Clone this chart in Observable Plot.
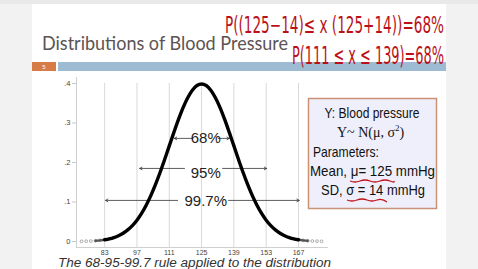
<!DOCTYPE html>
<html>
<head>
<meta charset="utf-8">
<script src="https://cdn.jsdelivr.net/npm/d3@7"></script>
<script src="https://cdn.jsdelivr.net/npm/@observablehq/plot@0.6"></script>
<style>
  html, body { margin: 0; padding: 0; }
  body { width: 478px; height: 269px; overflow: hidden; background: #f2f2f2; position: relative; font-family: "Liberation Sans", Arial, sans-serif; }
  #slide { position: absolute; left: 32px; top: 4px; width: 414px; height: 265px; background: #fff; }
  #top { position: absolute; left: 0; top: 0; width: 478px; height: 4px; background: #e9e9e9; }
  #chart { position: absolute; left: 32px; top: 72px; }
  #deco { position: absolute; left: 0; top: 0; pointer-events: none; }
</style>
</head>
<body>
<div id="top"></div>
<div id="slide"></div>
<div id="chart"></div>
<svg id="deco" width="478" height="269"></svg>
<script>
// Blood pressure values (mmHg) and density
const bp = [73,75,77,79,81,83,85,87,89,91,93,95,97,99,101,103,105,107,109,111,113,115,117,119,121,123,125,
            127,129,131,133,135,137,139,141,143,145,147,149,151,153,155,157,159,161,163,165,167,169,171,173,175,177];
const density = [0.0004,0.0007,0.0011,0.0018,0.0029,0.0044,0.0067,0.0100,0.0146,0.0209,0.0293,0.0402,0.0540,0.0711,0.0918,0.1161,0.1438,0.1746,0.2076,0.2420,0.2763,0.3091,0.3389,0.3639,0.3830,0.3949,0.3989,
                 0.3949,0.3830,0.3639,0.3389,0.3091,0.2763,0.2420,0.2076,0.1746,0.1438,0.1161,0.0918,0.0711,0.0540,0.0402,0.0293,0.0209,0.0146,0.0100,0.0067,0.0044,0.0029,0.0018,0.0011,0.0007,0.0004];
const xTicks = [83, 97, 111, 125, 139, 153, 167];
const yTicks = [0, 0.1, 0.2, 0.3, 0.4];
// interval arrows: label, height, inner gap ends, arrow tips
const ruleLabels = ["68%", "95%", "99.7%"];
const ruleHeight = [0.261, 0.185, 0.104];
const labelHeight = [0.261, 0.173, 0.103];
const gapLeft = [120.7, 117.6, 114.6];
const gapRight = [132.2, 134.1, 136.7];
const tipLeft = [113.2, 98.2, 83.4];
const tipRight = [137.0, 153.2, 167.3];

const curve = bp.map((x, i) => ({x, y: density[i]}));
const mainCurve = curve.filter(d => d.x >= 83 && d.x <= 167);
const tailLine = curve.filter(d => (d.x >= 79 && d.x <= 87) || (d.x >= 163 && d.x <= 171));
const tailDots = curve.filter(d => d.x <= 81 || d.x >= 169);
const arrows = [];
ruleLabels.forEach((l, i) => {
  arrows.push({x1: gapLeft[i], x2: tipLeft[i], y: ruleHeight[i]});
  arrows.push({x1: gapRight[i], x2: tipRight[i], y: ruleHeight[i]});
});
const labels = ruleLabels.map((l, i) => ({label: l, y: labelHeight[i]}));

const yMin = -0.0152, yMax = 0.4152;
const fmtY = d => d === 0 ? "0" : d3.format(".1f")(d).replace(/^0/, "");

const plot = Plot.plot({
  width: 310, height: 197,
  marginLeft: 44, marginRight: 14, marginTop: 5, marginBottom: 22,
  style: {background: "transparent", fontFamily: "Liberation Sans, Arial, sans-serif", fontSize: "7px"},
  x: {domain: [70.8, 180]},
  y: {domain: [yMin, yMax]},
  marks: [
    Plot.ruleX(xTicks, {y1: yMin, y2: 0.4, stroke: "#d9d9d9", strokeWidth: 1}),
    Plot.ruleX([70.8], {y1: yMin, y2: yMax, stroke: "#cfcfcf"}),
    Plot.ruleY([yMin], {x1: 70.8, x2: 180, stroke: "#cfcfcf"}),
    Plot.axisY({ticks: yTicks, tickSize: 4, tickFormat: () => "", stroke: "#c8c8c8", label: null}),
    Plot.axisY({ticks: yTicks, tickSize: 0, tickPadding: 6, tickFormat: fmtY, fill: "#444", label: null, fontSize: 7.5}),
    Plot.axisX({ticks: xTicks, tickSize: 0, tickPadding: 3, fill: "#444", label: null, fontSize: 7}),
    Plot.arrow(arrows, {x1: "x1", x2: "x2", y1: "y", y2: "y", stroke: "#333", strokeWidth: 0.8, headLength: 5, bend: 0}),
    Plot.text(labels, {x: 126.8, y: "y", text: "label", fontSize: 15, fill: "#222", fontFamily: "Liberation Sans, Arial, sans-serif"}),
    Plot.dot(tailDots, {x: "x", y: "y", r: 1.4, stroke: "#8a8a8a", strokeWidth: 0.7, fill: "none"}),
    Plot.line(tailLine.filter(d => d.x < 125), {x: "x", y: "y", stroke: "#555", strokeWidth: 2.4, curve: "catmull-rom"}),
    Plot.line(tailLine.filter(d => d.x > 125), {x: "x", y: "y", stroke: "#555", strokeWidth: 2.4, curve: "catmull-rom"}),
    Plot.line(mainCurve, {x: "x", y: "y", stroke: "#000", strokeWidth: 3.4, curve: "catmull-rom"})
  ]
});
document.getElementById("chart").appendChild(plot);

// slide decorations
const deco = d3.select("#deco");
deco.append("rect").attr("x", 32).attr("y", 62).attr("width", 24).attr("height", 9).attr("fill", "#d77b47");
deco.append("text").attr("x", 44).attr("y", 69).attr("text-anchor", "middle").attr("fill", "#fff")
  .attr("font-size", 6).attr("font-family", "Liberation Sans, Arial").text("5");
deco.append("rect").attr("x", 58).attr("y", 62).attr("width", 388).attr("height", 9).attr("fill", "#9dbbd3");
deco.append("text").attr("x", 42).attr("y", 50).attr("font-size", 18.5).attr("font-family", "Lato, 'Noto Sans', sans-serif")
  .attr("fill", "#5d5353").attr("textLength", 246).attr("lengthAdjust", "spacingAndGlyphs").text("Distributions of Blood Pressure");

// parameter box
deco.append("rect").attr("x", 308.5).attr("y", 98.5).attr("width", 128).attr("height", 110)
  .attr("fill", "#efeffb").attr("stroke", "#c99274").attr("stroke-width", 1.5);
const boxText = (x, y, anchor, size, fam, len) => {
  const el = deco.append("text").attr("x", x).attr("y", y).attr("text-anchor", anchor)
    .attr("font-size", size).attr("font-family", fam).attr("fill", "#111");
  if (len) el.attr("textLength", len).attr("lengthAdjust", "spacingAndGlyphs");
  return el;
};
boxText(372, 118, "middle", 14.5, "Liberation Sans, Arial", 95).text("Y: Blood pressure");
const t2 = boxText(337, 137, "start", 14, "Liberation Serif, Times New Roman, serif");
t2.append("tspan").text("Y~ N(\u03bc, \u03c3");
t2.append("tspan").attr("dy", -6).attr("font-size", 9).text("2");
t2.append("tspan").attr("dy", 6).text(")");
boxText(313, 157, "start", 14.5, "Liberation Sans, Arial", 66).text("Parameters:");
boxText(372.5, 176, "middle", 14.5, "Liberation Sans, Arial", 125).text("Mean, \u03bc= 125 mmHg");
boxText(373, 195, "middle", 14.5, "Liberation Sans, Arial", 104).text("SD, \u03c3 = 14 mmHg");
deco.append("path").attr("d", "M350,181 q5,2 10,0 t10,0 t10,0 t10,0 t4,0").attr("fill", "none").attr("stroke", "#c0141c").attr("stroke-width", 1.3);
deco.append("path").attr("d", "M347,200 q5,2 10,0 t10,0 t10,0 t10,2").attr("fill", "none").attr("stroke", "#c0141c").attr("stroke-width", 1.3);

// handwritten annotations (narrow font stretched vertically)
deco.append("text").attr("transform", "translate(225,33) scale(1,1.7)").attr("font-size", 13.5)
  .attr("font-family", "DejaVu Sans Condensed, DejaVu Sans, sans-serif")
  .attr("fill", "#bb1019").attr("textLength", 219).attr("lengthAdjust", "spacingAndGlyphs").text("P((125\u221214)\u2264 x (125+14))=68%");
deco.append("text").attr("transform", "translate(292,64) scale(1,1.8)").attr("font-size", 13.5)
  .attr("font-family", "DejaVu Sans Condensed, DejaVu Sans, sans-serif")
  .attr("fill", "#bb1019").attr("textLength", 152).attr("lengthAdjust", "spacingAndGlyphs").text("P(111 \u2264 x \u2264 139)=68%");

// caption at the bottom edge
deco.append("text").attr("x", 58).attr("y", 266.5).attr("font-size", 12).attr("font-style", "italic")
  .attr("font-family", "Liberation Sans, Arial").attr("fill", "#333").attr("textLength", 273).attr("lengthAdjust", "spacingAndGlyphs")
  .text("The 68-95-99.7 rule applied to the distribution");
</script>
</body>
</html>
